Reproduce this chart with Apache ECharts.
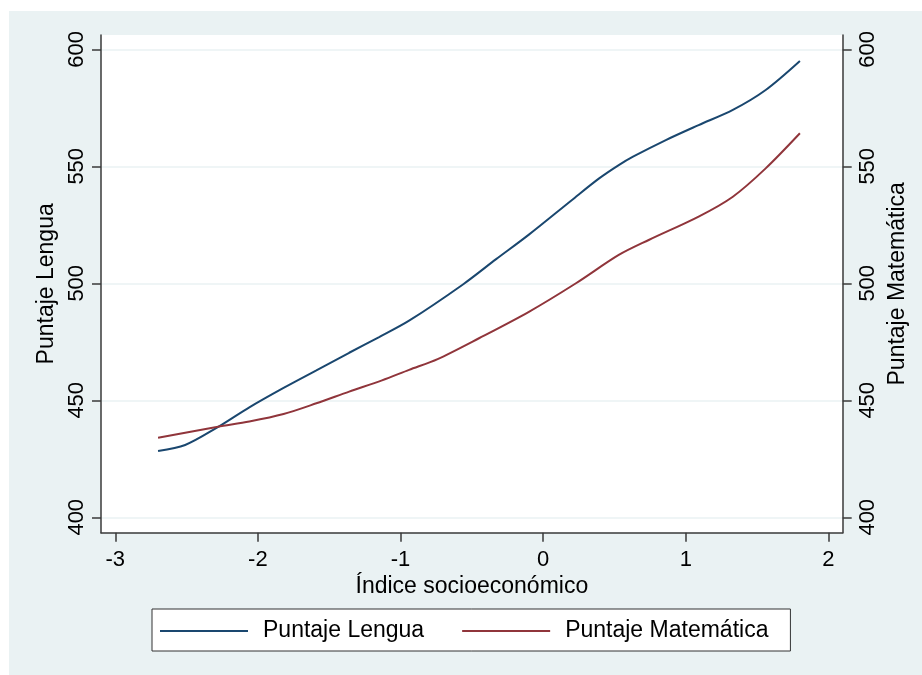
<!DOCTYPE html>
<html>
<head>
<meta charset="utf-8">
<script src="https://cdn.jsdelivr.net/npm/echarts@6/dist/echarts.min.js"></script>
<style>
html,body{margin:0;padding:0;background:#fff;width:922px;height:675px;overflow:hidden;}
#bg{position:absolute;left:9px;top:11px;width:913px;height:664px;background:#EAF2F3;}
#chart{position:absolute;left:0;top:0;width:922px;height:675px;}
</style>
</head>
<body>
<div id="bg"></div>
<div id="chart"></div>
<script>
// Data
const seriesNames = ['Puntaje Lengua', 'Puntaje Matemática'];
const lenguaData = [
  [-2.70,428.3],[-2.51,430.9],[-2.29,438.2],[-2.06,447.0],[-1.82,455.3],[-1.59,462.8],
  [-1.36,470.3],[-1.15,477.0],[-0.94,484.0],[-0.56,499.6],[-0.33,510.3],
  [-0.10,520.8],[0.20,535.5],[0.39,544.7],[0.53,550.5],[0.63,554.1],[0.86,561.2],
  [1.09,567.6],[1.33,574.1],[1.56,582.6],[1.80,595.0]
];
const matematicaData = [
  [-2.70,434.0],[-2.28,438.7],[-2.06,440.9],[-1.82,444.1],[-1.59,448.7],[-1.36,453.7],
  [-1.13,458.5],[-0.94,463.0],[-0.74,467.6],[-0.45,476.5],[-0.10,487.8],[0.23,500.0],
  [0.53,512.1],[0.74,518.5],[1.09,528.5],[1.33,537.0],[1.56,549.1],[1.80,564.1]
];
const xTicks = [-3,-2,-1,0,1,2];
const yTicks = [400,450,500,550,600];
const xTitle = 'Índice socioeconómico';

const FONT = "'Liberation Sans', Arial, sans-serif";
const axisColor = '#3a3a3a';
const gridColor = '#EAF2F3';

function yAxisCfg(pos, name, margin, gap, split){
  return {
    type:'value', position:pos, min:393.4, max:606.1,
    name:name, nameLocation:'middle', nameGap:gap,
    nameTextStyle:{fontFamily:FONT,fontSize:23,color:'#000'},
    axisLine:{show:true,onZero:false,lineStyle:{color:axisColor,width:1.5}},
    axisTick:{show:true,inside:false,length:9,customValues:yTicks,lineStyle:{color:axisColor,width:1.5}},
    axisLabel:{show:true,rotate:90,margin:margin,customValues:yTicks,fontFamily:FONT,fontSize:22,color:'#000'},
    splitLine:{show:split,lineStyle:{color:gridColor,width:1.5}}
  };
}

const chart = echarts.init(document.getElementById('chart'), null, {renderer:'canvas'});
chart.setOption({
  animation:false,
  backgroundColor:'transparent',
  grid:{left:101,right:79.3,top:35,bottom:142.3,show:true,backgroundColor:'#fff',borderWidth:0,outerBoundsMode:'none'},
  legend:{
    left:152, top:609, orient:'horizontal',
    padding:[10,22,8,8], itemGap:38, itemWidth:88, itemHeight:2,
    backgroundColor:'#fff', borderColor:'#333', borderWidth:1,
    icon:'rect',
    textStyle:{fontFamily:FONT,fontSize:23,color:'#000',lineHeight:24,padding:[0,0,0,10]},
    data:seriesNames
  },
  xAxis:{
    type:'value', min:-3.1, max:2.1,
    name:xTitle, nameLocation:'middle', nameGap:33,
    nameTextStyle:{fontFamily:FONT,fontSize:23,color:'#000'},
    axisLine:{show:true,onZero:false,lineStyle:{color:axisColor,width:1.5}},
    axisTick:{show:true,inside:false,length:9,customValues:xTicks,lineStyle:{color:axisColor,width:1.5}},
    axisLabel:{show:true,margin:16,customValues:xTicks,fontFamily:FONT,fontSize:22,color:'#000'},
    splitLine:{show:false}
  },
  yAxis:[
    yAxisCfg('left', seriesNames[0], 13, 35, true),
    yAxisCfg('right', seriesNames[1], 14, 38, false)
  ],
  series:[
    {name:seriesNames[0],type:'line',yAxisIndex:0,data:lenguaData,showSymbol:false,smooth:0.3,
     lineStyle:{color:'#1A476F',width:2},itemStyle:{color:'#1A476F'}},
    {name:seriesNames[1],type:'line',yAxisIndex:1,data:matematicaData,showSymbol:false,smooth:0.3,
     lineStyle:{color:'#90353B',width:2},itemStyle:{color:'#90353B'}}
  ]
});
</script>
</body>
</html>
